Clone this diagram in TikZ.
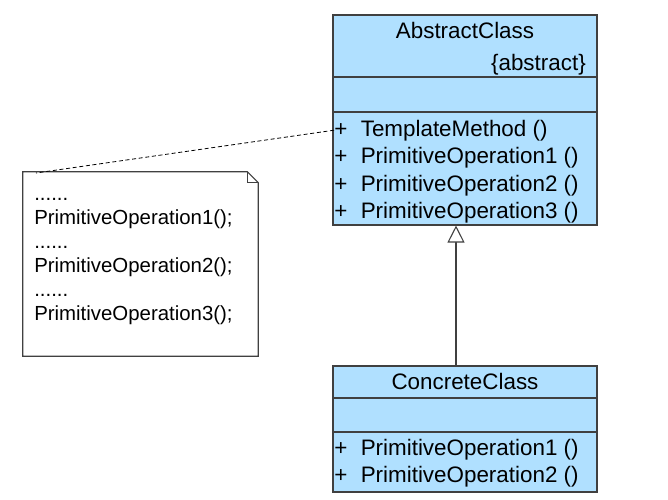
\documentclass[tikz,border=0pt]{standalone}
\usepackage{fontspec}
\setmainfont{Liberation Sans}
\usepackage{xcolor}
\usetikzlibrary{arrows.meta}
\definecolor{classblue}{RGB}{176,224,255}
\definecolor{edgegray}{RGB}{64,64,64}

\begin{document}
\begin{tikzpicture}[x=0.75pt, y=-0.75pt,
  classbox/.style={draw=edgegray, fill=classblue, line width=0.8pt, inner sep=0pt, minimum width=198pt},
  member/.style={anchor=base west, inner sep=0pt, font=\fontsize{16.8}{18}\selectfont},
  notetext/.style={anchor=base west, inner sep=0pt, font=\fontsize{15.3}{18}\selectfont}]
\useasboundingbox (0,0) rectangle (668,500);
% class boxes
\node[classbox, minimum height=157.5pt] (abstract) at (465,120) {};
\node[classbox, minimum height=94.5pt] (concrete) at (465,429) {};
\draw[edgegray, line width=0.8pt] (abstract.west |- 0,77) -- (abstract.east |- 0,77);
\draw[edgegray, line width=0.8pt] (abstract.west |- 0,112) -- (abstract.east |- 0,112);
\draw[edgegray, line width=0.8pt] (concrete.west |- 0,398) -- (concrete.east |- 0,398);
\draw[edgegray, line width=0.8pt] (concrete.west |- 0,432) -- (concrete.east |- 0,432);
% AbstractClass
\node[member, anchor=base] (abstractname) at (465,38) {AbstractClass};
\node[member, anchor=base east] (abstracttag) at (586,70) {\{abstract\}};
\node[member] (template) at (334,136) {+\hspace{0.6em}TemplateMethod ()};
\node[member] (aprim1) at (334,163) {+\hspace{0.6em}PrimitiveOperation1 ()};
\node[member] (aprim2) at (334,191) {+\hspace{0.6em}PrimitiveOperation2 ()};
\node[member] (aprim3) at (334,218) {+\hspace{0.6em}PrimitiveOperation3 ()};
% ConcreteClass
\node[member, anchor=base] (concretename) at (465,389) {ConcreteClass};
\node[member] (cprim1) at (334,455) {+\hspace{0.6em}PrimitiveOperation1 ()};
\node[member] (cprim2) at (334,482) {+\hspace{0.6em}PrimitiveOperation2 ()};
% note
\node[minimum width=176.25pt, minimum height=138pt, inner sep=0pt] (note) at (140.5,264) {};
\draw[edgegray, line width=0.8pt, fill=white] (note.south west) -- (note.north west)
  -- ([xshift=-8.25pt]note.north east) -- ([yshift=-8.25pt]note.north east)
  -- (note.south east) -- cycle;
\draw[edgegray, line width=0.8pt] ([xshift=-8.25pt]note.north east) |- ([yshift=-8.25pt]note.north east);
\node[notetext] (dots1) at (34,200) {......};
\node[notetext] (ncall1) at (34,224) {PrimitiveOperation1();};
\node[notetext] (dots2) at (34,248) {......};
\node[notetext] (ncall2) at (34,272) {PrimitiveOperation2();};
\node[notetext] (dots3) at (34,296) {......};
\node[notetext] (ncall3) at (34,320) {PrimitiveOperation3();};
\coordinate (notecorner) at (36,173);
% connectors
\draw[black, line width=0.6pt, dash pattern=on 3pt off 2pt] (template.west) -- (notecorner);
\draw[edgegray, line width=0.8pt, -{Triangle[width=12.75pt, length=12.75pt, fill=white]}]
  ([xshift=-6.75pt]concrete.north) -- ([xshift=-6.75pt]abstract.south);
\end{tikzpicture}
\end{document}
